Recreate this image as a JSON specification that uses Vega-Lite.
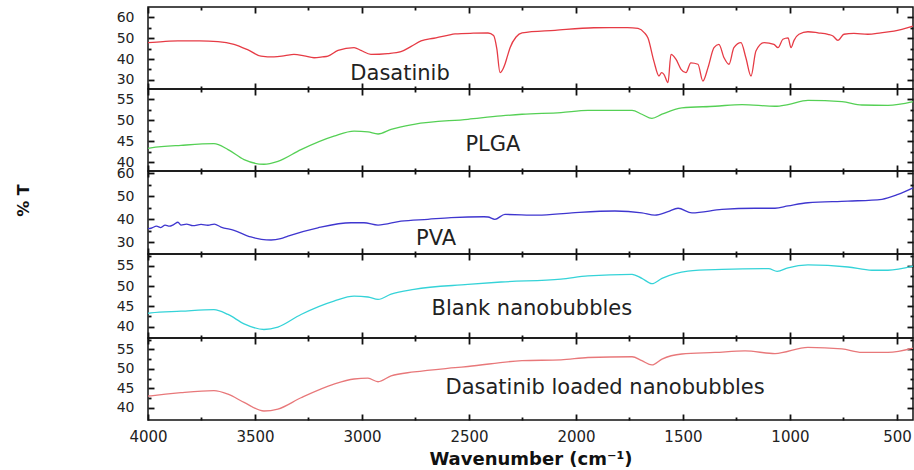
{
  "$schema": "https://vega.github.io/schema/vega-lite/v6.json",
  "padding": {"left": 14, "top": 5, "right": 0, "bottom": 0},
  "background": "white",
  "bounds": "flush",
  "spacing": 0,
  "config": {
    "view": {"stroke": "#111", "strokeWidth": 1.5},
    "axis": {"grid": false, "domain": false, "ticks": true, "zindex": 1, "labelFlush": false, "labelOverlap": false, "tickColor": "#111", "tickWidth": 1.8, "labelFont": "DejaVu Sans", "labelColor": "#222", "titleFont": "DejaVu Sans", "titleColor": "#111", "format": "d"},
    "text": {"font": "DejaVu Sans", "fontSize": 21, "color": "#222"},
    "line": {"strokeWidth": 1.3, "interpolate": "monotone"}
  },
  "datasets": {
    "dasatinib": [
      {"w":4000,"t":47.8},{"w":3930,"t":48.3},{"w":3860,"t":48.6},{"w":3760,"t":48.6},{"w":3673,"t":48.3},{"w":3598,"t":47.0},{"w":3530,"t":44.2},{"w":3472,"t":41.4},{"w":3411,"t":41.0},{"w":3360,"t":41.6},{"w":3318,"t":42.2},{"w":3270,"t":41.5},{"w":3224,"t":40.6},{"w":3185,"t":41.0},{"w":3159,"t":41.4},{"w":3112,"t":44.1},{"w":3037,"t":45.4},{"w":3005,"t":44.1},{"w":2958,"t":42.2},{"w":2880,"t":42.6},{"w":2818,"t":43.5},{"w":2770,"t":46.0},{"w":2724,"t":48.6},{"w":2664,"t":49.9},{"w":2600,"t":51.3},{"w":2565,"t":52.0},{"w":2480,"t":52.3},{"w":2411,"t":52.4},{"w":2385,"t":51.2},{"w":2370,"t":45.0},{"w":2355,"t":33.5},{"w":2340,"t":35.5},{"w":2332,"t":37.5},{"w":2320,"t":41.5},{"w":2308,"t":45.4},{"w":2280,"t":50.5},{"w":2252,"t":52.5},{"w":2098,"t":53.7},{"w":1916,"t":54.9},{"w":1760,"t":55.0},{"w":1710,"t":54.6},{"w":1680,"t":52.5},{"w":1664,"t":50.1},{"w":1636,"t":39.0},{"w":1612,"t":31.9},{"w":1600,"t":33.5},{"w":1589,"t":32.7},{"w":1570,"t":28.7},{"w":1556,"t":42.2},{"w":1533,"t":39.9},{"w":1509,"t":35.1},{"w":1486,"t":33.5},{"w":1463,"t":38.2},{"w":1430,"t":37.5},{"w":1407,"t":29.5},{"w":1383,"t":35.9},{"w":1355,"t":45.4},{"w":1332,"t":47.0},{"w":1308,"t":40.6},{"w":1285,"t":37.5},{"w":1262,"t":45.4},{"w":1229,"t":47.8},{"w":1206,"t":40.6},{"w":1182,"t":31.9},{"w":1159,"t":43.8},{"w":1121,"t":47.8},{"w":1075,"t":47.0},{"w":1056,"t":45.4},{"w":1033,"t":49.4},{"w":1009,"t":50.1},{"w":995,"t":45.4},{"w":981,"t":48.9},{"w":958,"t":51.8},{"w":916,"t":53.0},{"w":869,"t":52.5},{"w":822,"t":51.8},{"w":799,"t":51.0},{"w":776,"t":48.9},{"w":748,"t":51.8},{"w":701,"t":52.2},{"w":636,"t":51.8},{"w":575,"t":52.5},{"w":514,"t":53.3},{"w":425,"t":55.7}
    ],
    "plga": [
      {"w":4000,"t":43.3},{"w":3986,"t":43.4},{"w":3846,"t":44.0},{"w":3692,"t":44.4},{"w":3626,"t":43.0},{"w":3551,"t":40.6},{"w":3458,"t":39.5},{"w":3393,"t":40.2},{"w":3285,"t":43.0},{"w":3131,"t":46.2},{"w":3037,"t":47.4},{"w":2972,"t":47.2},{"w":2925,"t":46.7},{"w":2864,"t":47.8},{"w":2757,"t":49.0},{"w":2505,"t":50.2},{"w":2350,"t":51.0},{"w":2252,"t":51.4},{"w":2070,"t":51.8},{"w":1944,"t":52.3},{"w":1738,"t":52.3},{"w":1692,"t":51.4},{"w":1645,"t":50.4},{"w":1598,"t":51.4},{"w":1505,"t":52.9},{"w":1350,"t":53.3},{"w":1224,"t":53.7},{"w":1070,"t":53.3},{"w":1009,"t":53.7},{"w":916,"t":54.7},{"w":757,"t":54.4},{"w":664,"t":53.6},{"w":542,"t":53.5},{"w":425,"t":54.4}
    ],
    "pva": [
      {"w":4000,"t":35.8},{"w":3986,"t":36.0},{"w":3960,"t":36.9},{"w":3940,"t":36.3},{"w":3920,"t":37.4},{"w":3900,"t":36.9},{"w":3880,"t":37.6},{"w":3860,"t":38.6},{"w":3846,"t":37.4},{"w":3820,"t":37.8},{"w":3790,"t":37.1},{"w":3752,"t":37.7},{"w":3720,"t":37.3},{"w":3690,"t":37.8},{"w":3659,"t":36.5},{"w":3598,"t":35.1},{"w":3519,"t":32.2},{"w":3470,"t":31.2},{"w":3425,"t":30.9},{"w":3380,"t":31.5},{"w":3346,"t":32.6},{"w":3206,"t":36.2},{"w":3051,"t":38.4},{"w":2991,"t":38.4},{"w":2925,"t":37.4},{"w":2818,"t":39.1},{"w":2692,"t":39.9},{"w":2584,"t":40.6},{"w":2430,"t":41.0},{"w":2411,"t":40.9},{"w":2379,"t":39.9},{"w":2332,"t":42.0},{"w":2178,"t":41.7},{"w":2019,"t":42.7},{"w":1818,"t":43.5},{"w":1692,"t":42.7},{"w":1631,"t":41.7},{"w":1570,"t":43.2},{"w":1523,"t":44.7},{"w":1458,"t":42.7},{"w":1318,"t":44.2},{"w":1164,"t":44.7},{"w":1070,"t":44.7},{"w":1009,"t":45.7},{"w":916,"t":47.1},{"w":729,"t":47.8},{"w":570,"t":48.6},{"w":495,"t":50.7},{"w":425,"t":53.6}
    ],
    "blank": [
      {"w":4000,"t":43.3},{"w":3986,"t":43.4},{"w":3846,"t":43.8},{"w":3692,"t":44.2},{"w":3626,"t":43.0},{"w":3551,"t":40.7},{"w":3458,"t":39.3},{"w":3393,"t":39.9},{"w":3285,"t":43.0},{"w":3131,"t":46.3},{"w":3037,"t":47.5},{"w":2972,"t":47.3},{"w":2925,"t":46.7},{"w":2864,"t":48.0},{"w":2757,"t":49.2},{"w":2505,"t":50.4},{"w":2350,"t":51.0},{"w":2070,"t":51.7},{"w":1944,"t":52.5},{"w":1738,"t":52.9},{"w":1692,"t":51.9},{"w":1645,"t":50.6},{"w":1598,"t":51.9},{"w":1477,"t":53.7},{"w":1318,"t":54.1},{"w":1100,"t":54.3},{"w":1060,"t":53.6},{"w":1009,"t":54.5},{"w":916,"t":55.2},{"w":729,"t":54.7},{"w":617,"t":53.9},{"w":542,"t":53.9},{"w":425,"t":54.9}
    ],
    "loaded": [
      {"w":4000,"t":43.0},{"w":3986,"t":43.1},{"w":3846,"t":43.9},{"w":3692,"t":44.4},{"w":3626,"t":43.5},{"w":3551,"t":41.4},{"w":3458,"t":39.2},{"w":3393,"t":39.7},{"w":3285,"t":42.6},{"w":3131,"t":46.1},{"w":3037,"t":47.4},{"w":2972,"t":47.6},{"w":2925,"t":46.7},{"w":2864,"t":48.2},{"w":2757,"t":49.2},{"w":2565,"t":50.3},{"w":2505,"t":50.6},{"w":2252,"t":52.1},{"w":2070,"t":52.3},{"w":1944,"t":52.9},{"w":1738,"t":53.1},{"w":1692,"t":52.1},{"w":1645,"t":51.0},{"w":1598,"t":52.5},{"w":1505,"t":53.8},{"w":1350,"t":54.2},{"w":1210,"t":54.6},{"w":1070,"t":53.9},{"w":916,"t":55.5},{"w":757,"t":55.1},{"w":664,"t":54.2},{"w":542,"t":54.2},{"w":425,"t":55.3}
    ],
    "labels": [
      {"panel":"dasatinib","w":2822,"t":32.9,"label":"Dasatinib"},
      {"panel":"plga","w":2388,"t":44.0,"label":"PLGA"},
      {"panel":"pva","w":2654,"t":31.3,"label":"PVA"},
      {"panel":"blank","w":2206,"t":44.3,"label":"Blank nanobubbles"},
      {"panel":"loaded","w":1864,"t":45.1,"label":"Dasatinib loaded nanobubbles"}
    ]
  },
  "vconcat": [
    {
      "width": 765, "height": 82,
      "layer": [
        {"data": {"name": "dasatinib"}, "mark": {"type": "line", "color": "#e63b45"},
         "encoding": {
           "x": {"field": "w", "type": "quantitative", "scale": {"domain": [4000, 425], "nice": false, "zero": false}, "axis": {"orient": "bottom", "values": [500,1000,1500,2000,2500,3000,3500,4000], "offset": -6, "tickSize": 6, "labels": false, "title": null}},
           "y": {"field": "t", "type": "quantitative", "scale": {"domain": [25.7, 64.8], "nice": false, "zero": false}, "axis": {"orient": "left", "values": [30,40,50,60], "offset": -6, "tickSize": 6, "labelPadding": 14, "labelFontSize": 14, "title": null}}
         }},
        {"data": {"name": "labels"}, "transform": [{"filter": "datum.panel === 'dasatinib'"}], "mark": {"type": "text", "align": "center", "baseline": "middle"},
         "encoding": {
           "x": {"field": "w", "type": "quantitative", "axis": {"orient": "bottom", "values": [750,1250,1750,2250,2750,3250,3750], "offset": -3, "tickSize": 3, "labels": false, "title": null}},
           "y": {"field": "t", "type": "quantitative", "axis": {"orient": "left", "values": [35,45,55], "offset": -3, "tickSize": 3, "labels": false, "title": null}},
           "text": {"field": "label"}
         }},
        {"data": {"name": "labels"}, "transform": [{"filter": "datum.panel === 'dasatinib'"}], "mark": {"type": "point", "opacity": 0},
         "encoding": {
           "x": {"field": "w", "type": "quantitative", "axis": {"orient": "top", "values": [500,1000,1500,2000,2500,3000,3500,4000], "offset": -6, "tickSize": 6, "labels": false, "title": null}},
           "y": {"field": "t", "type": "quantitative", "axis": {"orient": "right", "values": [30,40,50,60], "offset": -6, "tickSize": 6, "labels": false, "title": null}}
         }},
        {"data": {"name": "labels"}, "transform": [{"filter": "datum.panel === 'dasatinib'"}], "mark": {"type": "point", "opacity": 0},
         "encoding": {
           "x": {"field": "w", "type": "quantitative", "axis": {"orient": "top", "values": [750,1250,1750,2250,2750,3250,3750], "offset": -3, "tickSize": 3, "labels": false, "title": null}},
           "y": {"field": "t", "type": "quantitative", "axis": {"orient": "right", "values": [35,45,55], "offset": -3, "tickSize": 3, "labels": false, "title": null}}
         }}
      ],
      "resolve": {"axis": {"x": "independent", "y": "independent"}}
    },
    {
      "width": 765, "height": 82,
      "layer": [
        {"data": {"name": "plga"}, "mark": {"type": "line", "color": "#55d055"},
         "encoding": {
           "x": {"field": "w", "type": "quantitative", "scale": {"domain": [4000, 425], "nice": false, "zero": false}, "axis": {"orient": "bottom", "values": [500,1000,1500,2000,2500,3000,3500,4000], "offset": -6, "tickSize": 6, "labels": false, "title": null}},
           "y": {"field": "t", "type": "quantitative", "scale": {"domain": [37.9, 57.4], "nice": false, "zero": false}, "axis": {"orient": "left", "values": [40,45,50,55], "offset": -6, "tickSize": 6, "labelPadding": 14, "labelFontSize": 14, "title": null}}
         }},
        {"data": {"name": "labels"}, "transform": [{"filter": "datum.panel === 'plga'"}], "mark": {"type": "text", "align": "center", "baseline": "middle"},
         "encoding": {
           "x": {"field": "w", "type": "quantitative", "axis": {"orient": "bottom", "values": [750,1250,1750,2250,2750,3250,3750], "offset": -3, "tickSize": 3, "labels": false, "title": null}},
           "y": {"field": "t", "type": "quantitative", "axis": {"orient": "left", "values": [42.5,47.5,52.5], "offset": -3, "tickSize": 3, "labels": false, "title": null}},
           "text": {"field": "label"}
         }},
        {"data": {"name": "labels"}, "transform": [{"filter": "datum.panel === 'plga'"}], "mark": {"type": "point", "opacity": 0},
         "encoding": {
           "x": {"field": "w", "type": "quantitative", "axis": {"orient": "top", "values": [500,1000,1500,2000,2500,3000,3500,4000], "offset": -6, "tickSize": 6, "labels": false, "title": null}},
           "y": {"field": "t", "type": "quantitative", "axis": {"orient": "right", "values": [40,45,50,55], "offset": -6, "tickSize": 6, "labels": false, "title": null}}
         }},
        {"data": {"name": "labels"}, "transform": [{"filter": "datum.panel === 'plga'"}], "mark": {"type": "point", "opacity": 0},
         "encoding": {
           "x": {"field": "w", "type": "quantitative", "axis": {"orient": "top", "values": [750,1250,1750,2250,2750,3250,3750], "offset": -3, "tickSize": 3, "labels": false, "title": null}},
           "y": {"field": "t", "type": "quantitative", "axis": {"orient": "right", "values": [42.5,47.5,52.5], "offset": -3, "tickSize": 3, "labels": false, "title": null}}
         }}
      ],
      "resolve": {"axis": {"x": "independent", "y": "independent"}}
    },
    {
      "width": 765, "height": 83,
      "layer": [
        {"data": {"name": "pva"}, "mark": {"type": "line", "color": "#3f36cf"},
         "encoding": {
           "x": {"field": "w", "type": "quantitative", "scale": {"domain": [4000, 425], "nice": false, "zero": false}, "axis": {"orient": "bottom", "values": [500,1000,1500,2000,2500,3000,3500,4000], "offset": -6, "tickSize": 6, "labels": false, "title": null}},
           "y": {"field": "t", "type": "quantitative", "scale": {"domain": [24.8, 60.9], "nice": false, "zero": false}, "axis": {"orient": "left", "values": [30,40,50,60], "offset": -6, "tickSize": 6, "labelPadding": 14, "labelFontSize": 14, "title": "% T", "titleFontSize": 16, "titleFontWeight": "bold", "titleX": -131, "titleY": 29, "titleAngle": -90, "titleAlign": "center", "titleBaseline": "middle"}}
         }},
        {"data": {"name": "labels"}, "transform": [{"filter": "datum.panel === 'pva'"}], "mark": {"type": "text", "align": "center", "baseline": "middle"},
         "encoding": {
           "x": {"field": "w", "type": "quantitative", "axis": {"orient": "bottom", "values": [750,1250,1750,2250,2750,3250,3750], "offset": -3, "tickSize": 3, "labels": false, "title": null}},
           "y": {"field": "t", "type": "quantitative", "axis": {"orient": "left", "values": [35,45,55], "offset": -3, "tickSize": 3, "labels": false, "title": null}},
           "text": {"field": "label"}
         }},
        {"data": {"name": "labels"}, "transform": [{"filter": "datum.panel === 'pva'"}], "mark": {"type": "point", "opacity": 0},
         "encoding": {
           "x": {"field": "w", "type": "quantitative", "axis": {"orient": "top", "values": [500,1000,1500,2000,2500,3000,3500,4000], "offset": -6, "tickSize": 6, "labels": false, "title": null}},
           "y": {"field": "t", "type": "quantitative", "axis": {"orient": "right", "values": [30,40,50,60], "offset": -6, "tickSize": 6, "labels": false, "title": null}}
         }},
        {"data": {"name": "labels"}, "transform": [{"filter": "datum.panel === 'pva'"}], "mark": {"type": "point", "opacity": 0},
         "encoding": {
           "x": {"field": "w", "type": "quantitative", "axis": {"orient": "top", "values": [750,1250,1750,2250,2750,3250,3750], "offset": -3, "tickSize": 3, "labels": false, "title": null}},
           "y": {"field": "t", "type": "quantitative", "axis": {"orient": "right", "values": [35,45,55], "offset": -3, "tickSize": 3, "labels": false, "title": null}}
         }}
      ],
      "resolve": {"axis": {"x": "independent", "y": "independent"}}
    },
    {
      "width": 765, "height": 84,
      "layer": [
        {"data": {"name": "blank"}, "mark": {"type": "line", "color": "#35d3d8"},
         "encoding": {
           "x": {"field": "w", "type": "quantitative", "scale": {"domain": [4000, 425], "nice": false, "zero": false}, "axis": {"orient": "bottom", "values": [500,1000,1500,2000,2500,3000,3500,4000], "offset": -6, "tickSize": 6, "labels": false, "title": null}},
           "y": {"field": "t", "type": "quantitative", "scale": {"domain": [37.2, 57.9], "nice": false, "zero": false}, "axis": {"orient": "left", "values": [40,45,50,55], "offset": -6, "tickSize": 6, "labelPadding": 14, "labelFontSize": 14, "title": null}}
         }},
        {"data": {"name": "labels"}, "transform": [{"filter": "datum.panel === 'blank'"}], "mark": {"type": "text", "align": "center", "baseline": "middle"},
         "encoding": {
           "x": {"field": "w", "type": "quantitative", "axis": {"orient": "bottom", "values": [750,1250,1750,2250,2750,3250,3750], "offset": -3, "tickSize": 3, "labels": false, "title": null}},
           "y": {"field": "t", "type": "quantitative", "axis": {"orient": "left", "values": [42.5,47.5,52.5,57.5], "offset": -3, "tickSize": 3, "labels": false, "title": null}},
           "text": {"field": "label"}
         }},
        {"data": {"name": "labels"}, "transform": [{"filter": "datum.panel === 'blank'"}], "mark": {"type": "point", "opacity": 0},
         "encoding": {
           "x": {"field": "w", "type": "quantitative", "axis": {"orient": "top", "values": [500,1000,1500,2000,2500,3000,3500,4000], "offset": -6, "tickSize": 6, "labels": false, "title": null}},
           "y": {"field": "t", "type": "quantitative", "axis": {"orient": "right", "values": [40,45,50,55], "offset": -6, "tickSize": 6, "labels": false, "title": null}}
         }},
        {"data": {"name": "labels"}, "transform": [{"filter": "datum.panel === 'blank'"}], "mark": {"type": "point", "opacity": 0},
         "encoding": {
           "x": {"field": "w", "type": "quantitative", "axis": {"orient": "top", "values": [750,1250,1750,2250,2750,3250,3750], "offset": -3, "tickSize": 3, "labels": false, "title": null}},
           "y": {"field": "t", "type": "quantitative", "axis": {"orient": "right", "values": [42.5,47.5,52.5,57.5], "offset": -3, "tickSize": 3, "labels": false, "title": null}}
         }}
      ],
      "resolve": {"axis": {"x": "independent", "y": "independent"}}
    },
    {
      "width": 765, "height": 82,
      "layer": [
        {"data": {"name": "loaded"}, "mark": {"type": "line", "color": "#e8787a"},
         "encoding": {
           "x": {"field": "w", "type": "quantitative", "scale": {"domain": [4000, 425], "nice": false, "zero": false}, "axis": {"orient": "bottom", "values": [500,1000,1500,2000,2500,3000,3500,4000], "offset": -6, "tickSize": 6, "labelPadding": 9, "labelFontSize": 15, "title": "Wavenumber (cm⁻¹)", "titleFontSize": 18, "titleFontWeight": "bold", "titlePadding": 6}},
           "y": {"field": "t", "type": "quantitative", "scale": {"domain": [36.9, 57.9], "nice": false, "zero": false}, "axis": {"orient": "left", "values": [40,45,50,55], "offset": -6, "tickSize": 6, "labelPadding": 14, "labelFontSize": 14, "title": null}}
         }},
        {"data": {"name": "labels"}, "transform": [{"filter": "datum.panel === 'loaded'"}], "mark": {"type": "text", "align": "center", "baseline": "middle"},
         "encoding": {
           "x": {"field": "w", "type": "quantitative", "axis": {"orient": "bottom", "values": [750,1250,1750,2250,2750,3250,3750], "offset": -3, "tickSize": 3, "labels": false, "title": null}},
           "y": {"field": "t", "type": "quantitative", "axis": {"orient": "left", "values": [42.5,47.5,52.5,57.5], "offset": -3, "tickSize": 3, "labels": false, "title": null}},
           "text": {"field": "label"}
         }},
        {"data": {"name": "labels"}, "transform": [{"filter": "datum.panel === 'loaded'"}], "mark": {"type": "point", "opacity": 0},
         "encoding": {
           "x": {"field": "w", "type": "quantitative", "axis": {"orient": "top", "values": [500,1000,1500,2000,2500,3000,3500,4000], "offset": -6, "tickSize": 6, "labels": false, "title": null}},
           "y": {"field": "t", "type": "quantitative", "axis": {"orient": "right", "values": [40,45,50,55], "offset": -6, "tickSize": 6, "labels": false, "title": null}}
         }},
        {"data": {"name": "labels"}, "transform": [{"filter": "datum.panel === 'loaded'"}], "mark": {"type": "point", "opacity": 0},
         "encoding": {
           "x": {"field": "w", "type": "quantitative", "axis": {"orient": "top", "values": [750,1250,1750,2250,2750,3250,3750], "offset": -3, "tickSize": 3, "labels": false, "title": null}},
           "y": {"field": "t", "type": "quantitative", "axis": {"orient": "right", "values": [42.5,47.5,52.5,57.5], "offset": -3, "tickSize": 3, "labels": false, "title": null}}
         }}
      ],
      "resolve": {"axis": {"x": "independent", "y": "independent"}}
    }
  ]
}
